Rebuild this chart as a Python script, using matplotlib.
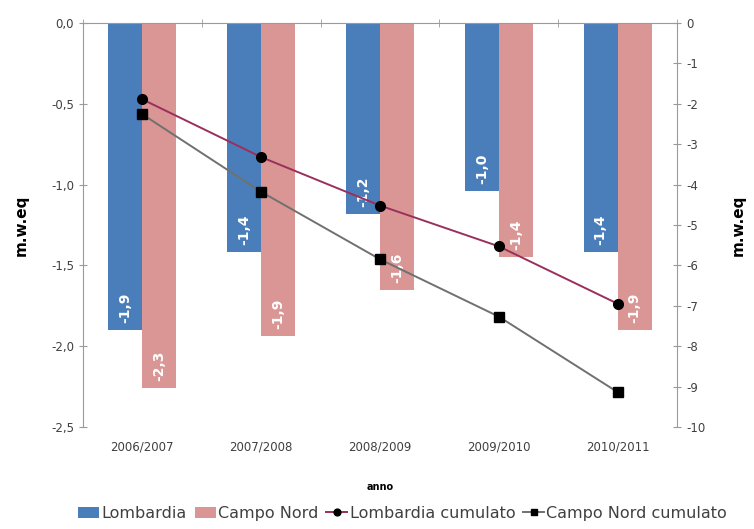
import numpy as np
import matplotlib
matplotlib.use("Agg")
import matplotlib.pyplot as plt
from matplotlib.ticker import FixedLocator, FuncFormatter

plt.rcParams["axes.unicode_minus"] = False

# Annual mass balance (m w.eq) per glaciological year
anni = ["2006/2007", "2007/2008", "2008/2009", "2009/2010", "2010/2011"]
lombardia = [-1.90, -1.42, -1.18, -1.04, -1.42]
campo_nord = [-2.26, -1.94, -1.65, -1.45, -1.90]

# Cumulative balance (right axis)
lombardia_cum = [-1.89, -3.32, -4.52, -5.53, -6.95]
campo_nord_cum = [-2.26, -4.18, -5.85, -7.27, -9.14]

left_ticks = [0.0, -0.5, -1.0, -1.5, -2.0, -2.5]
right_ticks = list(range(0, -11, -1))

BLUE = "#4a7ebb"
PINK = "#d99694"
TXT = "#404040"
AXC = "#9a9a9a"

fig = plt.figure(figsize=(7.54, 5.29), dpi=100)
ax = fig.add_axes([0.110, 0.193, 0.788, 0.7635])

x = np.arange(len(anni))
w = 0.285
b1 = ax.bar(x - w / 2, lombardia, w, color=BLUE, label="Lombardia", zorder=2)
b2 = ax.bar(x + w / 2, campo_nord, w, color=PINK, label="Campo Nord", zorder=2)

# value labels inside the bar ends
for bars, vals in ((b1, lombardia), (b2, campo_nord)):
    for r, v in zip(bars, vals):
        ax.annotate(f"{v:.1f}".replace(".", ","),
                    (r.get_x() + r.get_width() / 2, v),
                    xytext=(0, 5), textcoords="offset points",
                    rotation=90, ha="center", va="bottom",
                    color="white", fontsize=10, fontweight="bold", zorder=3)

ax.set_xlim(-0.5, len(anni) - 0.5)
ax.set_ylim(-2.5, 0)
ax.yaxis.set_major_locator(FixedLocator(left_ticks))
ax.yaxis.set_major_formatter(FuncFormatter(lambda v, p: f"{v:.1f}".replace(".", ",")))

ax.set_xticks(x)
ax.set_xticklabels(anni)
ax.xaxis.set_minor_locator(FixedLocator(np.arange(-0.5, len(anni), 1.0)))
ax.tick_params(axis="x", which="major", length=0, pad=10, labelsize=8.5, labelcolor=TXT)
ax.tick_params(axis="x", which="minor", top=True, bottom=False, direction="inout",
               length=6, color=AXC)
ax.tick_params(axis="y", which="major", direction="inout", length=6, color=AXC,
               labelsize=8.5, labelcolor=TXT)

for s in ("bottom", "right"):
    ax.spines[s].set_visible(False)
for s in ("top", "left"):
    ax.spines[s].set_color(AXC)

ax.set_ylabel("m.w.eq", fontsize=11, fontweight="bold", labelpad=16)
ax.set_xlabel("anno", fontsize=7, fontweight="bold", labelpad=20)

ax2 = ax.twinx()
ax2.set_ylim(-10, 0)
ax2.yaxis.set_major_locator(FixedLocator(right_ticks))
ax2.tick_params(axis="y", direction="inout", length=6, color=AXC,
                labelsize=8.5, labelcolor=TXT)
for s in ("top", "bottom", "left"):
    ax2.spines[s].set_visible(False)
ax2.spines["right"].set_color(AXC)
l1, = ax2.plot(x, lombardia_cum, color="#9b2f5c", lw=1.4, marker="o", ms=7,
               mfc="black", mec="black", label="Lombardia cumulato")
l2, = ax2.plot(x, campo_nord_cum, color="#707070", lw=1.4, marker="s", ms=7,
               mfc="black", mec="black", label="Campo Nord cumulato")
ax2.set_ylabel("m.w.eq", fontsize=11, fontweight="bold", rotation=90, labelpad=18)

fig.legend(handles=[b1, b2, l1, l2], loc="lower left", bbox_to_anchor=(0.085, -0.012),
           ncol=4, frameon=False, fontsize=11.5, handlelength=1.3, markerscale=0.7,
           handletextpad=0.15, columnspacing=0.5, labelcolor=TXT)

fig.savefig("out.png", dpi=100)
